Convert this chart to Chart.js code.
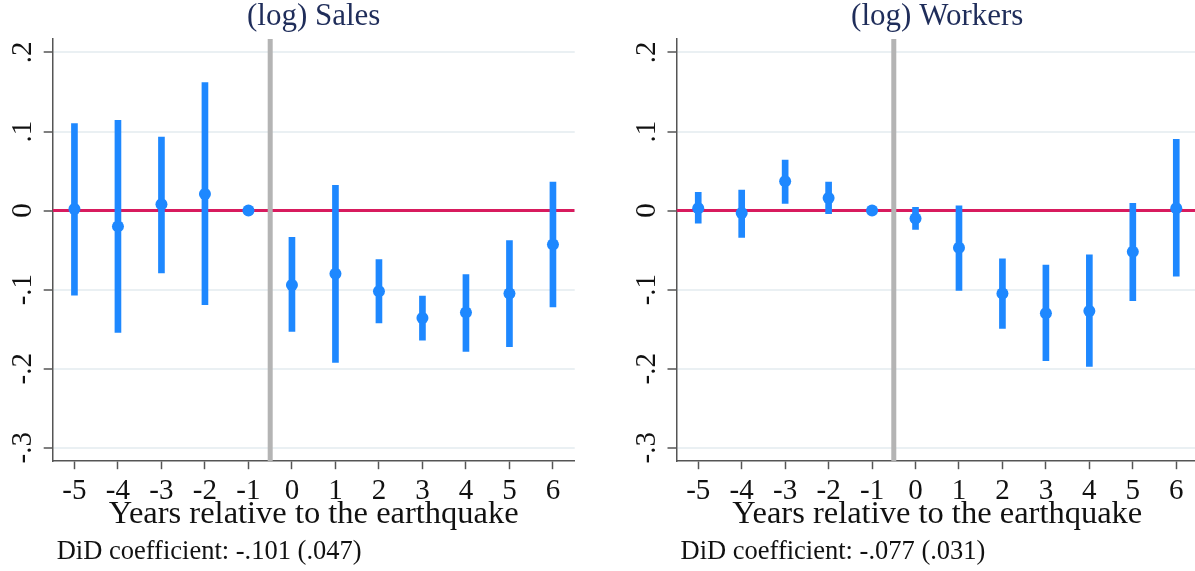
<!DOCTYPE html>
<html>
<head>
<meta charset="utf-8">
<script src="https://cdn.jsdelivr.net/npm/chart.js@4"></script>
<style>
  html, body { margin: 0; padding: 0; background: #fff; overflow: hidden; width: 1195px; height: 571px; }
  #left { position: absolute; left: 0; top: 0; width: 600px; height: 571px; }
  #right { position: absolute; left: 600px; top: 0; width: 610px; height: 571px; }
</style>
</head>
<body>
<div id="left"><canvas id="salesChart"></canvas></div>
<div id="right"><canvas id="workersChart"></canvas></div>
<script>
// Event-study estimates, years relative to the earthquake
const years = [-5, -4, -3, -2, -1, 0, 1, 2, 3, 4, 5, 6];
const yTicks = [-0.3, -0.2, -0.1, 0, 0.1, 0.2];
const yTickLabels = ['-.3', '-.2', '-.1', '0', '.1', '.2'];

// (log) Sales
const salesCoef = [0.002, -0.020, 0.008, 0.021, 0, -0.094, -0.080, -0.102, -0.136, -0.129, -0.105, -0.043];
const salesLow  = [-0.107, -0.154, -0.079, -0.119, null, -0.153, -0.192, -0.142, -0.164, -0.178, -0.172, -0.122];
const salesHigh = [0.110, 0.114, 0.093, 0.162, null, -0.034, 0.032, -0.062, -0.108, -0.081, -0.038, 0.036];

// (log) Workers
const workersCoef = [0.003, -0.003, 0.037, 0.016, 0, -0.010, -0.047, -0.105, -0.130, -0.127, -0.052, 0.003];
const workersLow  = [-0.016, -0.034, 0.009, -0.004, null, -0.024, -0.101, -0.149, -0.190, -0.197, -0.114, -0.083];
const workersHigh = [0.023, 0.026, 0.064, 0.036, null, 0.004, 0.006, -0.061, -0.069, -0.056, 0.009, 0.090];

const xMin = -5.5, xMax = 6.5;
const yMin = -0.317, yMax = 0.217;
const eventLine = -0.5;

const serif = '"Liberation Serif", "DejaVu Serif", serif';
const blue = '#1e88ff';
const red = '#d81b5e';
const gray = '#b4b4b4';
const axisColor = '#555555';
const gridColor = '#eaf0f3';

// rotated y tick labels + note line under the axis title
const labelPlugin = {
  id: 'labels',
  afterDraw(chart, args, opts) {
    const { ctx, scales: { y }, chartArea } = chart;
    ctx.save();
    ctx.fillStyle = '#111';
    ctx.font = `29px ${serif}`;
    ctx.textAlign = 'center';
    ctx.textBaseline = 'alphabetic';
    yTicks.forEach((v, i) => {
      ctx.save();
      ctx.translate(chartArea.left - 22, y.getPixelForValue(v));
      ctx.rotate(-Math.PI / 2);
      ctx.fillText(yTickLabels[i], 0, 0);
      ctx.restore();
    });
    ctx.font = `26.5px ${serif}`;
    ctx.textAlign = 'left';
    ctx.fillText(opts.note, chartArea.left + 4, 559);
    ctx.restore();
  }
};

function createChart(canvasId, title, note, coef, low, high, padLeft, padRight) {
  const ctx = document.getElementById(canvasId).getContext('2d');
  const ciData = years
    .map((x, i) => (low[i] === null ? null : { x: x, y: [low[i], high[i]] }))
    .filter(d => d);
  return new Chart(ctx, {
    type: 'scatter',
    data: {
      datasets: [
        {
          type: 'line',
          data: [{ x: xMin, y: 0 }, { x: xMax, y: 0 }],
          borderColor: red,
          borderWidth: 3,
          pointRadius: 0,
          order: 4
        },
        {
          type: 'line',
          data: [{ x: eventLine, y: yMin }, { x: eventLine, y: yMax }],
          borderColor: gray,
          borderWidth: 5,
          pointRadius: 0,
          order: 3
        },
        {
          type: 'bar',
          data: ciData,
          backgroundColor: blue,
          barThickness: 6,
          order: 2
        },
        {
          type: 'scatter',
          data: years.map((x, i) => ({ x: x, y: coef[i] })),
          backgroundColor: blue,
          pointRadius: 6,
          borderWidth: 0,
          order: 1
        }
      ]
    },
    options: {
      responsive: true,
      maintainAspectRatio: false,
      animation: false,
      layout: { padding: { left: padLeft, right: padRight, top: 0, bottom: 35.6 } },
      scales: {
        x: {
          type: 'linear',
          min: xMin,
          max: xMax,
          offset: false,
          afterBuildTicks: s => { s.ticks = years.map(v => ({ value: v })); },
          afterFit: s => { s.height = 74.2; },
          grid: { offset: false, drawOnChartArea: false, drawTicks: true, tickLength: 8, tickColor: axisColor, tickWidth: 1.5 },
          border: { display: true, color: axisColor, width: 1.5 },
          ticks: {
            color: '#111',
            font: { family: serif, size: 29, lineHeight: 1.2 },
            padding: 5,
            maxRotation: 0,
            autoSkip: false,
            callback: v => String(v)
          },
          title: {
            display: true,
            text: 'Years relative to the earthquake',
            color: '#111',
            font: { family: serif, size: 32.5, lineHeight: 1.1 },
            padding: { top: 0, bottom: 3.2 }
          }
        },
        y: {
          min: yMin,
          max: yMax,
          afterBuildTicks: s => { s.ticks = yTicks.map(v => ({ value: v })); },
          afterFit: s => { s.width = 9; },
          grid: { color: gridColor, lineWidth: 2, drawTicks: true, tickLength: 9, tickColor: axisColor, tickWidth: 1.5 },
          border: { display: true, color: axisColor, width: 1.5 },
          ticks: { display: false }
        }
      },
      plugins: {
        legend: { display: false },
        tooltip: { enabled: false },
        title: {
          display: true,
          text: title,
          color: '#1f2d5a',
          fullSize: false,
          font: { family: serif, size: 31, weight: 'normal', lineHeight: 1.1 },
          padding: { top: 0, bottom: 4.9 }
        },
        labels: { note: note }
      }
    },
    plugins: [labelPlugin]
  });
}

const charts = {
  sales: createChart('salesChart', '(log) Sales', 'DiD coefficient: -.101 (.047)',
    salesCoef, salesLow, salesHigh, 43.7, 25.3),
  workers: createChart('workersChart', '(log) Workers', 'DiD coefficient: -.077 (.031)',
    workersCoef, workersLow, workersHigh, 67.5, 12)
};
</script>
</body>
</html>
